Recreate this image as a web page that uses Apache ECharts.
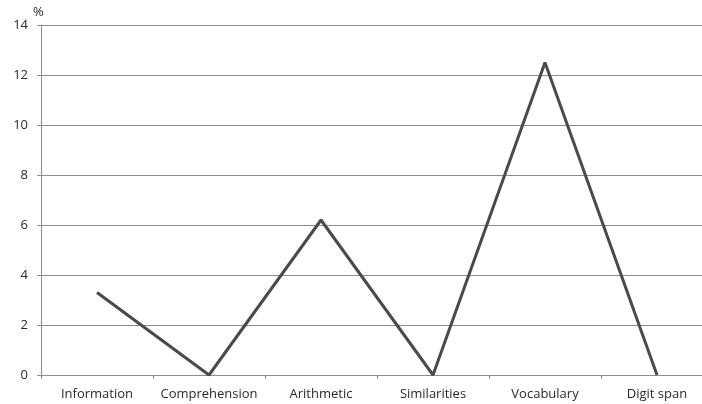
<!DOCTYPE html>
<html><head><meta charset="utf-8">
<script src="https://cdn.jsdelivr.net/npm/echarts@6/dist/echarts.min.js"></script>
<style>html,body{margin:0;padding:0;background:#fff}#c{width:702px;height:404px}</style>
</head><body><div id="c"></div>
<script>
const categories = ['Information','Comprehension','Arithmetic','Similarities','Vocabulary','Digit span'];
const values = [3.3, 0, 6.2, 0, 12.5, 0];
const yTicks = {min: 0, max: 14, interval: 2};

const chart = echarts.init(document.getElementById('c'));
chart.setOption({
  animation: false,
  grid: {left: 41, top: 25, width: 672, height: 350, outerBoundsMode: 'none', containLabel: false},
  xAxis: {
    type: 'category', data: categories, boundaryGap: true,
    axisLine: {lineStyle: {color: '#8c8c8c', width: 1}},
    axisTick: {show: true, interval: 0, length: 4, lineStyle: {color: '#8c8c8c'}},
    axisLabel: {interval: 0, color: '#2a2a2a', fontFamily: 'Open Sans', fontSize: 13, margin: 13, hideOverlap: false}
  },
  yAxis: {
    type: 'value', min: yTicks.min, max: yTicks.max, interval: yTicks.interval,
    name: '%', nameLocation: 'end', nameGap: 6,
    nameTextStyle: {color: '#2a2a2a', fontFamily: 'Open Sans', fontSize: 13, align: 'left', padding: [0,0,0,-8]},
    axisLine: {show: true, lineStyle: {color: '#8c8c8c'}},
    axisTick: {show: true, length: 4, lineStyle: {color: '#8c8c8c'}},
    axisLabel: {color: '#2a2a2a', fontFamily: 'Open Sans', fontSize: 13, margin: 13},
    splitLine: {lineStyle: {color: '#8c8c8c', width: 1}}
  },
  series: [{
    type: 'line', data: values, symbol: 'none',
    lineStyle: {color: '#4a4a4a', width: 3}
  }]
});
</script></body></html>
